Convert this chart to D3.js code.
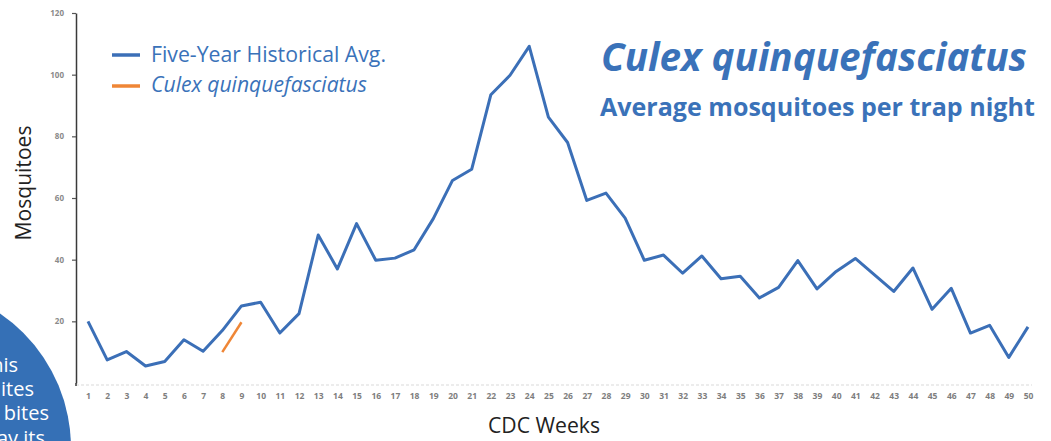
<!DOCTYPE html>
<html>
<head>
<meta charset="utf-8">
<script src="https://cdn.jsdelivr.net/npm/d3@7"></script>
<style>
  html, body { margin: 0; padding: 0; background: #ffffff; }
  svg { display: block; }
</style>
</head>
<body>
<svg id="chart" width="1051" height="441"></svg>
<script>
// ---- data ----
const weeks = d3.range(1, 51);
const fiveYearAvg = [20, 7.5, 10.2, 5.5, 7, 14, 10.3, 17, 25, 26.2,
  16.2, 22.5, 48, 37, 51.7, 39.8, 40.5, 43.2, 53.3, 65.7,
  69.3, 93.5, 99.8, 109.2, 86.2, 78, 59.2, 61.6, 53.5, 39.8,
  41.5, 35.6, 41.2, 33.8, 34.6, 27.6, 31, 39.7, 30.5, 36.2,
  40.4, 35.1, 29.7, 37.3, 23.9, 30.7, 16.2, 18.7, 8.3, 18.2];
const culexWeeks = [8, 9];
const culexValues = [10, 19.7];
const yTicks = [20, 40, 60, 80, 100, 120];
const xTickLabels = weeks.map(String);
const legendLabels = ["Five-Year Historical Avg.", "Culex quinquefasciatus"];
const titleText = "Culex quinquefasciatus";
const subtitleText = "Average mosquitoes per trap night";
const circleLines = ["his", "ites", "bites", "ay its"];

// ---- setup ----
const svg = d3.select("#chart");
const blue = "#3b6fb7";
const textBlue = "#3a72b9";
const orange = "#ef8636";

const x = d3.scaleLinear().domain([1, 50]).range([88, 1028]);
const y = d3.scaleLinear().domain([0, 120]).range([383, 13]);

function fit(sel, target) {
  const node = sel.node();
  const fs = parseFloat(sel.attr("font-size"));
  const len = node.getComputedTextLength();
  if (len > 0) sel.attr("font-size", (fs * target / len).toFixed(2));
  return sel;
}

// faint x baseline
svg.append("line")
  .attr("x1", 76).attr("x2", 1032)
  .attr("y1", 385).attr("y2", 385)
  .attr("stroke", "#ececec").attr("stroke-width", 2)
  .attr("stroke-dasharray", "3,2");

// y axis
const yAxis = d3.axisLeft(y).tickValues(yTicks).tickSize(4).tickSizeOuter(0).tickPadding(8);
const gy = svg.append("g").attr("transform", "translate(76,0)").call(yAxis);
gy.select(".domain").attr("stroke", "#3a3a3a").attr("stroke-width", 1.5);
gy.selectAll(".tick line").attr("stroke", "#555").attr("stroke-width", 1.2);
gy.selectAll(".tick text")
  .attr("font-family", "'Open Sans', sans-serif")
  .attr("font-size", 8).attr("font-weight", 700)
  .attr("fill", "#8a8a8a");
// bottom foot of y axis
svg.append("line").attr("x1", 76).attr("x2", 76).attr("y1", y(0)).attr("y2", 386)
  .attr("stroke", "#3a3a3a").attr("stroke-width", 1.5);

// x axis labels
const xAxis = d3.axisBottom(x).tickValues(weeks).tickFormat((d, i) => xTickLabels[i])
  .tickSize(0).tickSizeOuter(0).tickPadding(6);
const gx = svg.append("g").attr("transform", "translate(0,387)").call(xAxis);
gx.select(".domain").remove();
gx.selectAll(".tick text")
  .attr("font-family", "'Open Sans', sans-serif")
  .attr("font-size", 8.5).attr("font-weight", 700)
  .attr("fill", "#7e7e7e");

// lines
const line = d3.line().x(d => x(d[0])).y(d => y(d[1]));
svg.append("path")
  .datum(weeks.map((w, i) => [w, fiveYearAvg[i]]))
  .attr("d", line).attr("fill", "none")
  .attr("stroke", blue).attr("stroke-width", 3)
  .attr("stroke-linejoin", "round");
svg.append("path")
  .datum(culexWeeks.map((w, i) => [w, culexValues[i]]))
  .attr("d", line).attr("fill", "none")
  .attr("stroke", orange).attr("stroke-width", 2.5);

// axis titles
const yt = svg.append("text")
  .attr("transform", "translate(31,183) rotate(-90)")
  .attr("text-anchor", "middle")
  .attr("font-family", "'Open Sans', sans-serif")
  .attr("font-size", 20).attr("fill", "#222")
  .text("Mosquitoes");
fit(yt, 115);
const xt = svg.append("text")
  .attr("x", 544).attr("y", 433)
  .attr("text-anchor", "middle")
  .attr("font-family", "'Open Sans', sans-serif")
  .attr("font-size", 20).attr("fill", "#222")
  .text("CDC Weeks");
fit(xt, 112);

// legend
const legendColors = [blue, orange];
const legendY = [55, 86];
const legendBase = [62, 92];
const legendW = [235, 216];
legendLabels.forEach((lab, i) => {
  svg.append("line")
    .attr("x1", 112).attr("x2", 140)
    .attr("y1", legendY[i]).attr("y2", legendY[i])
    .attr("stroke", legendColors[i]).attr("stroke-width", 3.5);
  const t = svg.append("text")
    .attr("x", 151).attr("y", legendBase[i])
    .attr("font-family", "'Open Sans', sans-serif")
    .attr("font-size", 20)
    .attr("font-style", i === 1 ? "italic" : "normal")
    .attr("fill", textBlue)
    .text(lab);
  fit(t, legendW[i]);
});

// title
const tt = svg.append("text")
  .attr("x", 601).attr("y", 71)
  .attr("font-family", "'Open Sans', sans-serif")
  .attr("font-size", 30).attr("font-weight", 700).attr("font-style", "italic")
  .attr("fill", textBlue)
  .text(titleText);
fit(tt, 426);
const st = svg.append("text")
  .attr("x", 600).attr("y", 116)
  .attr("font-family", "'Open Sans', sans-serif")
  .attr("font-size", 20).attr("font-weight", 700)
  .attr("fill", textBlue)
  .text(subtitleText);
fit(st, 435);

// blue circle (cut off bottom-left)
svg.append("circle")
  .attr("cx", -92).attr("cy", 448).attr("r", 163)
  .attr("fill", "#3570b6");
const circleEnds = [18, 34, 49, 45];
const circleBase = [372, 396, 420, 445];
circleLines.forEach((s, i) => {
  svg.append("text")
    .attr("x", circleEnds[i]).attr("y", circleBase[i])
    .attr("text-anchor", "end")
    .attr("font-family", "'Open Sans', sans-serif")
    .attr("font-size", 20).attr("fill", "#ffffff")
    .text(s);
});
</script>
</body>
</html>
